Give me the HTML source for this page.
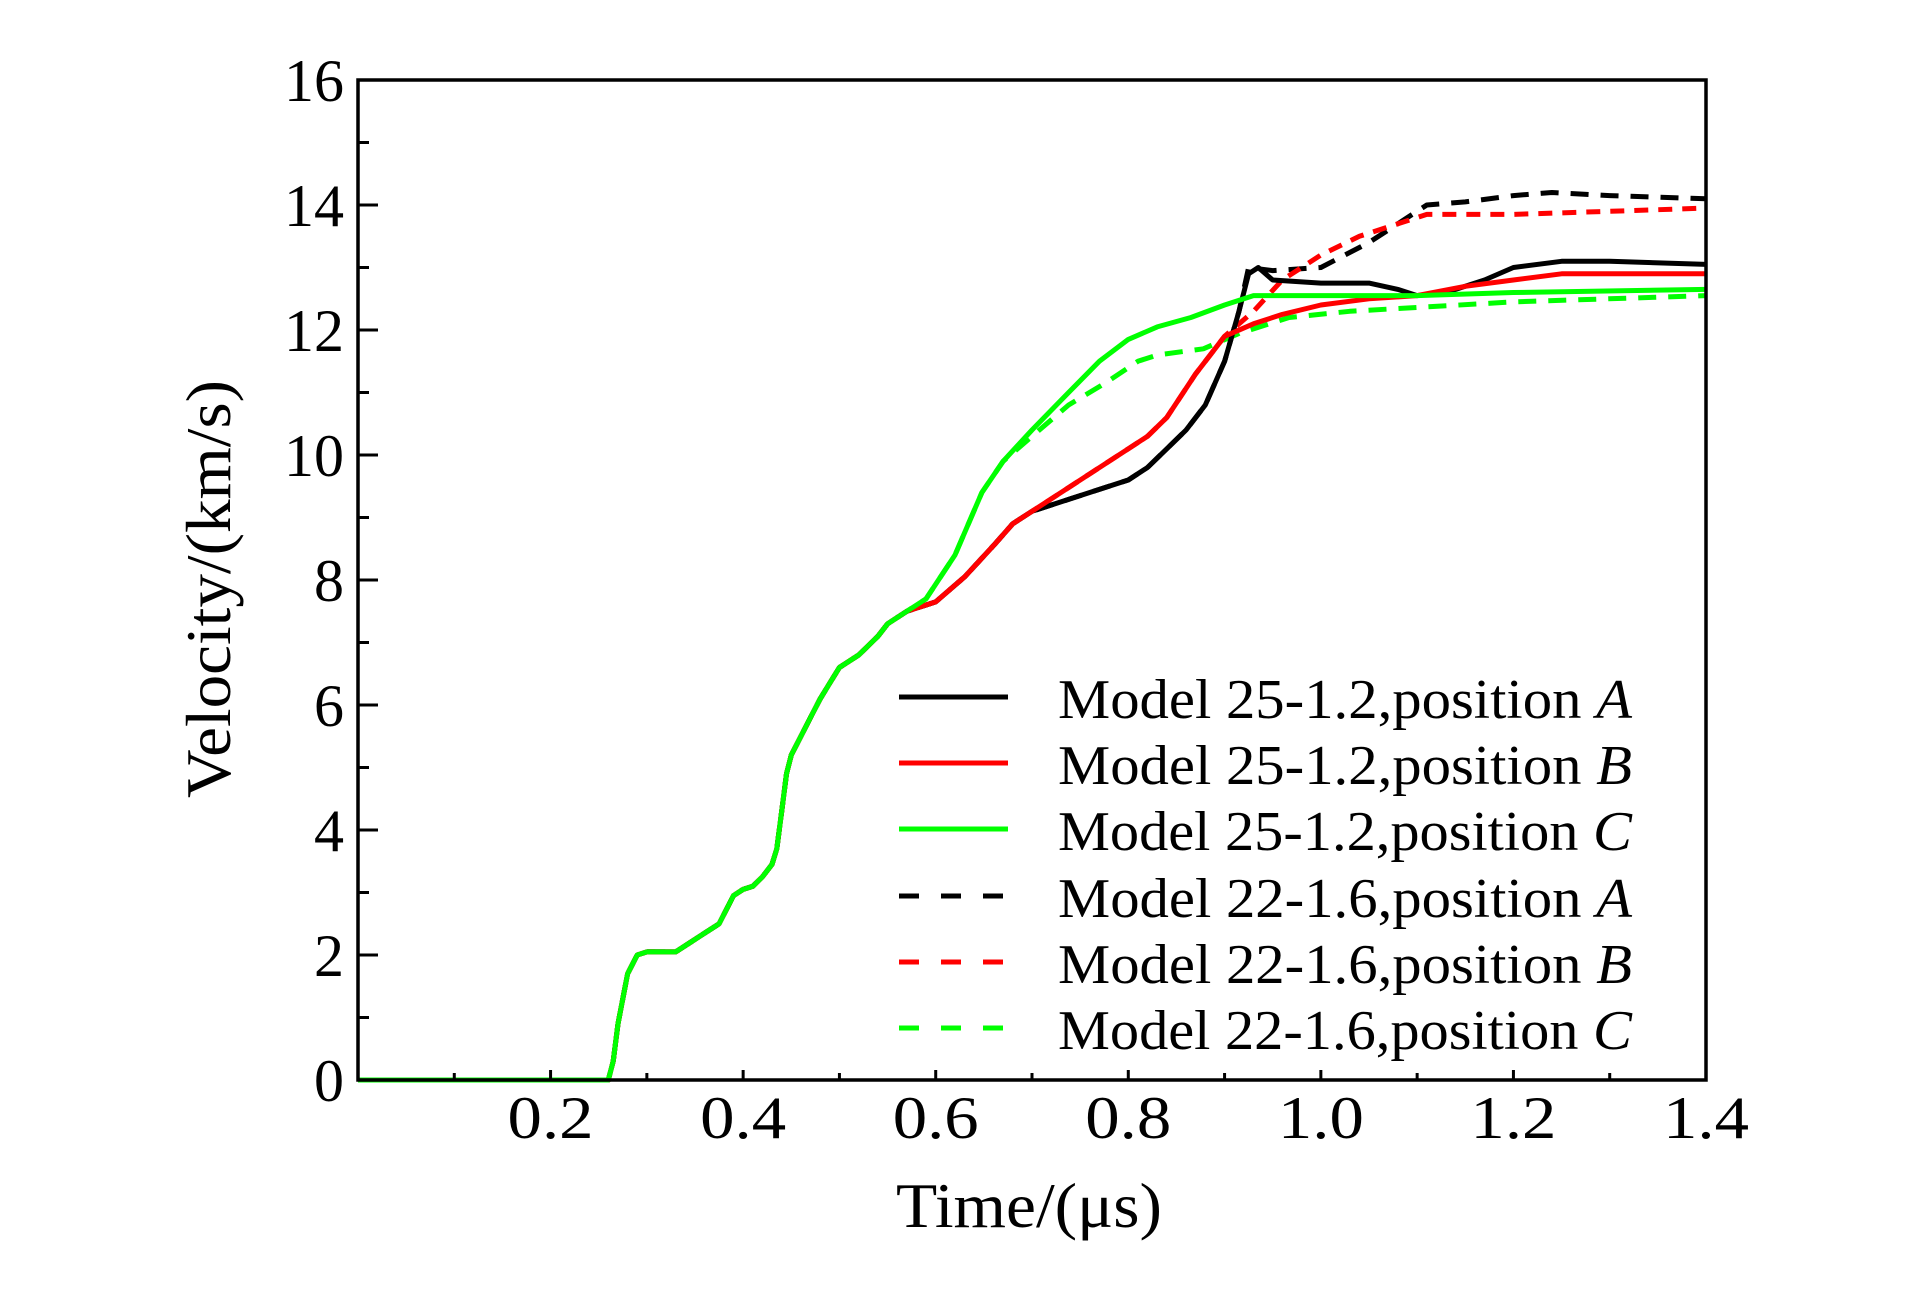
<!DOCTYPE html>
<html><head><meta charset="utf-8"><style>
html,body{margin:0;padding:0;background:#fff;}
svg{display:block;font-family:"Liberation Serif",serif;}
</style></head><body>
<svg id="chart" width="1923" height="1299" viewBox="0 0 1923 1299" xmlns="http://www.w3.org/2000/svg">
<g id="plot"></g>
<g id="axes"></g>
<g id="legend"></g>
</svg>
<script>
const xTicks=[0.2,0.4,0.6,0.8,1.0,1.2,1.4];
const xTickLabels=["0.2","0.4","0.6","0.8","1.0","1.2","1.4"];
const yTicks=[0,2,4,6,8,10,12,14,16];
const yTickLabels=["0","2","4","6","8","10","12","14","16"];
const commonT=[0,0.26,0.265,0.27,0.28,0.29,0.30,0.33,0.345,0.36,0.375,0.385,0.39,0.40,0.41,0.42,0.43,0.435,0.44,0.445,0.45,0.46,0.47,0.48,0.49,0.50,0.52,0.54,0.55,0.57];
const commonV=[0,0,0.3,0.9,1.7,2.0,2.05,2.05,2.2,2.35,2.5,2.8,2.95,3.05,3.1,3.25,3.45,3.7,4.3,4.9,5.2,5.5,5.8,6.1,6.35,6.6,6.8,7.1,7.3,7.5];
const a25T=[0.60,0.63,0.66,0.68,0.70,0.74,0.78,0.80,0.82,0.84,0.86,0.88,0.90,0.915,0.925,0.935,0.95,1.0,1.05,1.08,1.10,1.13,1.17,1.20,1.25,1.30,1.40];
const a25V=[7.65,8.05,8.55,8.9,9.1,9.3,9.5,9.6,9.8,10.1,10.4,10.8,11.5,12.3,12.9,13.0,12.8,12.75,12.75,12.65,12.55,12.6,12.8,13.0,13.1,13.1,13.05];
const b25T=[0.60,0.63,0.66,0.68,0.72,0.76,0.80,0.82,0.84,0.87,0.90,0.93,0.96,1.0,1.05,1.10,1.15,1.20,1.25,1.40];
const b25V=[7.65,8.05,8.55,8.9,9.3,9.7,10.1,10.3,10.6,11.3,11.9,12.1,12.25,12.4,12.5,12.55,12.7,12.8,12.9,12.9];
const c25T=[0.59,0.62,0.648,0.67,0.70,0.738,0.77,0.80,0.83,0.865,0.90,0.93,0.95,1.10,1.20,1.40];
const c25V=[7.7,8.4,9.4,9.9,10.4,11.0,11.5,11.85,12.05,12.2,12.4,12.55,12.55,12.55,12.6,12.65];
const a22T=[0.60,0.63,0.66,0.68,0.70,0.74,0.78,0.80,0.82,0.84,0.86,0.88,0.90,0.915,0.925,0.95,1.0,1.05,1.09,1.11,1.15,1.20,1.24,1.30,1.40];
const a22V=[7.65,8.05,8.55,8.9,9.1,9.3,9.5,9.6,9.8,10.1,10.4,10.8,11.5,12.3,13.0,12.95,13.0,13.4,13.8,14.0,14.05,14.15,14.2,14.15,14.1];
const b22T=[0.60,0.63,0.66,0.68,0.72,0.76,0.80,0.82,0.84,0.87,0.90,0.93,0.96,1.0,1.04,1.08,1.11,1.15,1.20,1.30,1.40];
const b22V=[7.65,8.05,8.55,8.9,9.3,9.7,10.1,10.3,10.6,11.3,11.9,12.3,12.8,13.2,13.5,13.7,13.85,13.85,13.85,13.9,13.95];
const c22T=[0.59,0.62,0.648,0.67,0.70,0.738,0.776,0.81,0.83,0.878,0.916,0.967,1.03,1.20,1.40];
const c22V=[7.7,8.4,9.4,9.9,10.3,10.8,11.15,11.5,11.6,11.7,11.95,12.2,12.3,12.45,12.55];
const seriesNames=["Model 25-1.2,position ","Model 25-1.2,position ","Model 25-1.2,position ","Model 22-1.6,position ","Model 22-1.6,position ","Model 22-1.6,position "];
const seriesPos=["A","B","C","A","B","C"];

const L=358,R=1706,T=80,B=1080;
const xs=t=>L+(t-0)/1.4*(R-L);
const ys=v=>B-v/16*(B-T);
const NS="http://www.w3.org/2000/svg";
function mk(tag,attrs,parent){const e=document.createElementNS(NS,tag);for(const k in attrs)e.setAttribute(k,attrs[k]);parent.appendChild(e);return e;}
const plot=document.getElementById('plot'),axes=document.getElementById('axes'),legend=document.getElementById('legend');

const series=[
 {t:a25T,v:a25V,c:"#000",d:""},
 {t:b25T,v:b25V,c:"#ff0000",d:""},
 {t:c25T,v:c25V,c:"#00ff00",d:""},
 {t:a22T,v:a22V,c:"#000",d:"18 12"},
 {t:b22T,v:b22V,c:"#ff0000",d:"14 10"},
 {t:c22T,v:c22V,c:"#00ff00",d:"18 12"}
];
const order=[3,4,5,0,1,2];
order.forEach(i=>{
 const s=series[i];
 const T2=commonT.concat(s.t),V2=commonV.concat(s.v);
 let d="";T2.forEach((t,k)=>{d+=(k?"L":"M")+xs(t).toFixed(1)+","+ys(V2[k]).toFixed(1);});
 const p=mk('path',{d:d,fill:"none",stroke:s.c,"stroke-width":5,"stroke-linejoin":"round","stroke-dasharray":s.d},plot);
 
 
});

const fr=mk('rect',{x:L,y:T,width:R-L,height:B-T,fill:"none",stroke:"#000","stroke-width":3.5},axes);


for(let v=1;v<16;v++){
 const major=v%2===0;
 const tk=mk('line',{x1:L,x2:L+(major?20:11),y1:ys(v),y2:ys(v),stroke:"#000","stroke-width":3},axes);
 
 
}
yTicks.forEach((v,i)=>{
 const tx=mk('text',{x:344,y:ys(v)+21,"text-anchor":"end","font-size":60},axes);
 tx.textContent=yTickLabels[i];
 
 
});
for(let k=1;k<14;k++){
 const t=k/10, major=k%2===0;
 const tk=mk('line',{x1:xs(t),x2:xs(t),y1:B,y2:B-(major?10:7),stroke:"#000","stroke-width":3},axes);
 
 
}
xTicks.forEach((t,i)=>{
 const tx=mk('text',{x:xs(t),y:1138,"text-anchor":"middle","font-size":60,textLength:86,lengthAdjust:"spacingAndGlyphs"},axes);
 tx.textContent=xTickLabels[i];
 
 
});
const xt=mk('text',{x:1029,y:1227,"text-anchor":"middle","font-size":64,textLength:266,lengthAdjust:"spacingAndGlyphs"},axes);
xt.textContent="Time/(μs)";


const yt=mk('text',{x:0,y:0,"text-anchor":"middle","font-size":64,textLength:418,lengthAdjust:"spacingAndGlyphs",transform:"translate(230,589) rotate(-90)"},axes);
yt.textContent="Velocity/(km/s)";



const rowsY=[697,763,829,896,962,1028];
[0,1,2,3,4,5].forEach(i=>{
 const s=series[i];
 const ln=mk('line',{x1:899,x2:1008,y1:rowsY[i],y2:rowsY[i],stroke:s.c,"stroke-width":5,"stroke-dasharray":i<3?"":"20 22"},legend);
 
 
 const tx=mk('text',{x:1058,y:rowsY[i]+21,"font-size":56,textLength:574,lengthAdjust:"spacingAndGlyphs"},legend);
 tx.textContent=seriesNames[i];
 const it=mk('tspan',{"font-style":"italic"},tx);
 it.textContent=seriesPos[i];
 
 
});
</script>
</body></html>
